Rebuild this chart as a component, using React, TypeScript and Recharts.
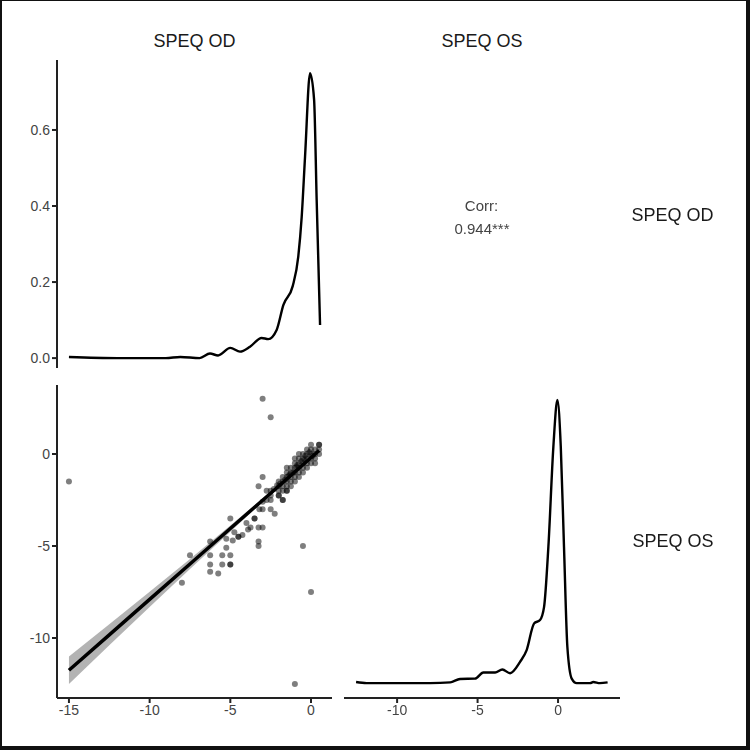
import React from "react"
import {
  LineChart,
  Line,
  ComposedChart,
  Area,
  Scatter,
  XAxis,
  YAxis,
} from "recharts"

// density of SPEQ OD (top-left diagonal panel)
const odDensityX = [-15, -12, -9, -8.1, -6.9, -6.26, -5.76, -5.0, -4.4, -3.78, -3.06, -2.65, -2.13, -1.71, -1.13, -0.79, -0.58, -0.37, -0.06, 0.19, 0.35, 0.56]
const odDensityY = [0.003, 0, 0, 0.003, 0, 0.012, 0.007, 0.027, 0.017, 0.03, 0.053, 0.05, 0.074, 0.14, 0.19, 0.267, 0.37, 0.53, 0.749, 0.68, 0.416, 0.087]

// density of SPEQ OS (bottom-right diagonal panel)
const osDensityX = [-12.55, -11.9, -7.95, -6.7, -6.09, -5.16, -4.64, -3.91, -3.46, -2.98, -2.36, -1.95, -1.49, -1.12, -0.87, -0.6, -0.29, -0.04, 0.17, 0.37, 0.58, 0.85, 1.16, 1.99, 2.19, 2.6, 3.08]
const osDensityY = [0.003, 0, 0, 0.002, 0.011, 0.012, 0.028, 0.028, 0.036, 0.026, 0.056, 0.087, 0.157, 0.166, 0.2, 0.359, 0.622, 0.745, 0.622, 0.359, 0.095, 0.012, 0, 0, 0.003, 0, 0.002]

// scatter: SPEQ OD (x) vs SPEQ OS (y)
const scatterOD = [
  -15, -3, -2.5, -0.5, 0, -1, -8, -7.5, -6.25, -6.25, -6.25, -6.25, -5.75, -5.5, -5.5, -5, -5, -5, -5.25,
  -5, -5.25, -4.85, -4.75, -4.5, -4.5, -4.25, -4, -3.9, -3.75, -3.5, -3.5, -3.25, -3, -3.25, -3.25, -3.2, -3,
  -3, -3.25, -3, -2.5, -2.5, -2.25, -2.75, -2.5, -2.3, -2.1, -2, -1.75, -1.5, -2.75, -2.5,
  -2, -2, -2, -2, -1.75, -1.75, -1.75, -1.75, -1.75,
  -1.5, -1.5, -1.5, -1.5, -1.5, -1.5, -1.25, -1.25, -1.25, -1.25, -1.25,
  -1, -1, -1, -1, -1, -1, -0.75, -0.75, -0.75, -0.75, -0.75, -0.75,
  -0.5, -0.5, -0.5, -0.5, -0.5, -0.25, -0.25, -0.25, -0.25, -0.25,
  0, 0, 0, 0, 0, 0.25, 0.25, 0.25, 0.25, 0.5, 0.5, 0.5, 0.5,
  -1.6, -1.4, -1.1, -0.9, -0.6, -0.4, -0.1, 0.1, -1.9, -1.3, -0.85, -0.35,
]
const scatterOS = [
  -1.5, 3, 2, -5, -7.5, -12.5, -7, -5.5, -4.75, -5.5, -6, -6.4, -6.5, -5.5, -6, -5.5, -6, -6, -5.1,
  -3.5, -4.6, -4.7, -4.25, -4.5, -4.5, -4.4, -3.75, -4.1, -4, -3.5, -3.5, -4, -4, -4.75, -5, -3, -3,
  -2.6, -1.75, -1.25, -2.5, -3, -3.25, -2, -2, -1.9, -1.7, -2.25, -2.5, -2, -2.5, -2.25,
  -2.25, -2, -1.75, -1.5, -2.5, -2, -1.75, -1.5, -1.25,
  -2, -1.75, -1.5, -1.25, -1, -0.75, -1.75, -1.5, -1.25, -1, -0.75,
  -1.5, -1.25, -1, -0.75, -0.5, -0.25, -1.25, -1, -0.75, -0.5, -0.25, 0,
  -1, -0.75, -0.5, -0.25, 0, -0.75, -0.5, -0.25, 0, 0.25,
  -0.5, -0.25, 0, 0.25, 0.5, -0.5, -0.25, 0, 0.25, 0, 0.25, 0.5, 0.5,
  -1.4, -1.2, -1.0, -0.7, -0.4, -0.3, 0.1, -0.1, -1.6, -1.1, -0.6, -0.1,
]

// linear fit with confidence band
const fitX = [-15, -12.5, -10, -7.5, -5, -2.5, 0.5]
const fitY = [-11.75, -9.83, -7.9, -5.98, -4.05, -2.13, 0.19]
const fitLow = [-12.5, -10.4, -8.32, -6.25, -4.22, -2.2, 0.08]
const fitHigh = [-11.0, -9.25, -7.48, -5.7, -3.88, -2.05, 0.29]

const odTicksY = [0, 0.2, 0.4, 0.6]
const odTicksX = [-15, -10, -5, 0]
const osTicksY = [-10, -5, 0]
const osTicksX = [-10, -5, 0]

const odDensity = odDensityX.map((x, i) => ({ x, y: odDensityY[i] }))
const osDensity = osDensityX.map((x, i) => ({ x, y: osDensityY[i] }))
const points = scatterOD.map((x, i) => ({ x, y: scatterOS[i] }))
const fitRows = fitX.map((x, i) => ({ x, fit: fitY[i], band: [fitLow[i], fitHigh[i]] }))

const FONT = '"Liberation Sans", Arial, sans-serif'
const axisLine = { stroke: "#222", strokeWidth: 2 }
const tickLine = { stroke: "#222", strokeWidth: 2 }
const tickStyle = { fill: "#444", fontSize: 14, fontFamily: FONT }

const label = (text: string, cx: number, cy: number, size = 18, color = "#1a1a1a") => (
  <div
    style={{
      position: "absolute",
      left: cx - 100,
      top: cy - size * 0.6,
      width: 200,
      textAlign: "center",
      fontSize: size,
      lineHeight: `${size * 1.2}px`,
      fontFamily: FONT,
      color,
      whiteSpace: "nowrap",
    }}
  >
    {text}
  </div>
)

const dot = (props: any) => (
  <circle cx={props.cx} cy={props.cy} r={3} fill="rgba(0,0,0,0.5)" />
)

export default function App() {
  return (
    <div
      style={{
        position: "fixed",
        left: 0,
        top: 0,
        width: 750,
        height: 750,
        boxSizing: "border-box",
        borderLeft: "2px solid #111",
        borderTop: "1px solid #111",
        borderRight: "4px solid #111",
        borderBottom: "4px solid #111",
        background: "#fff",
      }}
    >
      <div style={{ position: "absolute", left: -2, top: -1, width: 750, height: 750 }}>
        {label("SPEQ OD", 194.5, 41.5)}
        {label("SPEQ OS", 482, 41.5)}
        {label("SPEQ OD", 672.5, 216)}
        {label("SPEQ OS", 673, 542)}
        {label("Corr:", 481.5, 205.5, 15, "#444")}
        {label("0.944***", 482, 228.5, 15, "#444")}

        {/* top-left: density of SPEQ OD */}
        <div style={{ position: "absolute", left: 0, top: 0 }}>
          <LineChart width={340} height={375} data={odDensity} margin={{ top: 60, right: 8, bottom: 7, left: 0 }}>
            <XAxis type="number" dataKey="x" domain={[-15.74, 1.3]} allowDataOverflow hide />
            <YAxis
              type="number"
              domain={[-0.026, 0.784]}
              ticks={odTicksY}
              allowDataOverflow
              width={57}
              axisLine={axisLine}
              tickLine={tickLine}
              tickSize={5}
              tick={tickStyle}
              tickFormatter={(v) => Number(v).toFixed(1)}
            />
            <Line type="monotone" dataKey="y" stroke="#000" strokeWidth={2.4} dot={false} isAnimationActive={false} />
          </LineChart>
        </div>

        {/* bottom-left: scatter with linear fit */}
        <div style={{ position: "absolute", left: 0, top: 375 }}>
          <ComposedChart width={340} height={375} data={fitRows} margin={{ top: 10, right: 8, bottom: 22, left: 0 }}>
            <XAxis
              type="number"
              dataKey="x"
              domain={[-15.74, 1.3]}
              ticks={odTicksX}
              allowDataOverflow
              height={30}
              axisLine={axisLine}
              tickLine={tickLine}
              tickSize={5}
              tick={tickStyle}
            />
            <YAxis
              type="number"
              dataKey="y"
              domain={[-13.26, 3.75]}
              ticks={osTicksY}
              allowDataOverflow
              width={57}
              axisLine={axisLine}
              tickLine={tickLine}
              tickSize={5}
              tick={tickStyle}
            />
            <Area type="linear" dataKey="band" stroke="none" fill="#999" fillOpacity={0.75} isAnimationActive={false} />
            <Scatter data={points} dataKey="y" shape={dot} isAnimationActive={false} />
            <Line type="linear" dataKey="fit" stroke="#000" strokeWidth={3.5} dot={false} isAnimationActive={false} />
          </ComposedChart>
        </div>

        {/* bottom-right: density of SPEQ OS */}
        <div style={{ position: "absolute", left: 340, top: 375 }}>
          <LineChart width={290} height={375} data={osDensity} margin={{ top: 10, right: 10, bottom: 22, left: 4 }}>
            <XAxis
              type="number"
              dataKey="x"
              domain={[-13.3, 3.85]}
              ticks={osTicksX}
              allowDataOverflow
              height={30}
              axisLine={axisLine}
              tickLine={tickLine}
              tickSize={5}
              tick={tickStyle}
            />
            <YAxis type="number" domain={[-0.039, 0.784]} allowDataOverflow hide />
            <Line type="monotone" dataKey="y" stroke="#000" strokeWidth={2.4} dot={false} isAnimationActive={false} />
          </LineChart>
        </div>
      </div>
    </div>
  )
}
